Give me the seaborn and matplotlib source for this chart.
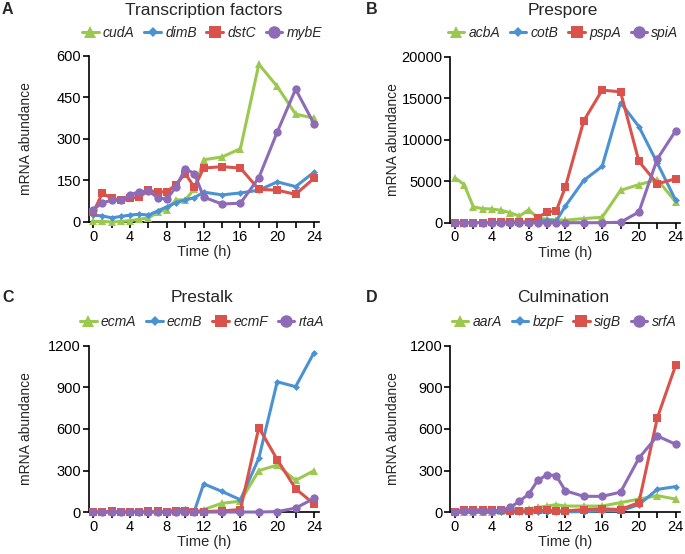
import numpy as np
import pandas as pd
import matplotlib
matplotlib.use("Agg")
import matplotlib.pyplot as plt
import seaborn as sns
from matplotlib.ticker import MultipleLocator

sns.set_theme(style="ticks")
plt.rcParams['font.family'] = ['Liberation Sans', 'DejaVu Sans']

time_h = [0, 1, 2, 3, 4, 5, 6, 7, 8, 9, 10, 11, 12, 14, 16, 18, 20, 22, 24]

# Panel A: Transcription factors
genes_a = ["cudA", "dimB", "dstC", "mybE"]
cudA = [2, 2, 0, 2, 5, 10, 15, 35, 45, 80, 80, 120, 225, 235, 265, 570, 490, 390, 375]
dimB = [25, 22, 15, 20, 25, 28, 25, 40, 55, 70, 80, 88, 108, 98, 105, 115, 145, 128, 180]
dstC = [35, 105, 85, 80, 85, 90, 115, 108, 110, 135, 175, 125, 195, 200, 195, 118, 115, 100, 158]
mybE = [45, 70, 78, 78, 98, 110, 112, 88, 82, 128, 192, 175, 90, 65, 68, 160, 325, 480, 355]

# Panel B: Prespore
genes_b = ["acbA", "cotB", "pspA", "spiA"]
acbA = [5400, 4600, 1900, 1700, 1650, 1500, 1200, 800, 1550, 600, 400, 350, 300, 500, 650, 3900, 4600, 5200, 2500]
cotB = [20, 20, 20, 20, 20, 30, 40, 40, 50, 200, 300, 200, 2000, 5100, 6800, 14500, 11600, 7200, 2700]
pspA = [0, 0, 20, 20, 40, 80, 100, 100, 100, 600, 1300, 1400, 4300, 12300, 16000, 15800, 7400, 4700, 5300]
spiA = [0, 0, 0, 0, 0, 0, 0, 0, 0, 0, 0, 0, 0, 0, 0, 50, 1300, 7700, 11100]

# Panel C: Prestalk
genes_c = ["ecmA", "ecmB", "ecmF", "rtaA"]
ecmA = [2, 2, 3, 3, 3, 3, 4, 4, 4, 5, 5, 5, 20, 65, 80, 300, 340, 230, 300]
ecmB = [2, 2, 2, 2, 2, 3, 3, 3, 3, 20, 25, 10, 205, 150, 90, 390, 940, 905, 1150]
ecmF = [5, 3, 6, 4, 5, 5, 6, 6, 5, 6, 6, 5, 5, 10, 20, 610, 380, 170, 60]
rtaA = [2, 2, 2, 2, 2, 2, 3, 2, 2, 2, 2, 2, 2, 2, 2, 2, 5, 30, 100]

# Panel D: Culmination
genes_d = ["aarA", "bzpF", "sigB", "srfA"]
aarA = [0, 2, 5, 5, 5, 10, 15, 20, 25, 35, 45, 55, 45, 45, 45, 70, 95, 120, 95]
bzpF = [0, 0, 0, 0, 0, 0, 0, 0, 2, 2, 2, 3, 3, 5, 10, 10, 55, 165, 185]
sigB = [5, 20, 15, 20, 15, 15, 10, 10, 10, 15, 15, 10, 10, 20, 25, 20, 70, 680, 1060]
srfA = [5, 10, 10, 10, 10, 15, 35, 80, 130, 230, 270, 265, 155, 115, 115, 145, 390, 550, 490]

titles = ["Transcription factors", "Prespore", "Prestalk", "Culmination"]
letters = ["A", "B", "C", "D"]
ymax = [600, 20000, 1200, 1200]
ystep = [150, 5000, 300, 300]

colors = ["#9bc94f", "#4a92d3", "#d9534c", "#8e6bb6"]
markers = ["^", "D", "s", "o"]
msizes = [5.5, 3.5, 5.5, 6]

panels = [
    (genes_a, [cudA, dimB, dstC, mybE]),
    (genes_b, [acbA, cotB, pspA, spiA]),
    (genes_c, [ecmA, ecmB, ecmF, rtaA]),
    (genes_d, [aarA, bzpF, sigB, srfA]),
]

W, H = 685, 554
fig = plt.figure(figsize=(W / 100, H / 100), dpi=100)

# axes rects in pixels: left, right, top(ymax), bottom(0)
rects = [(88.7, 318.6, 56, 222), (450.4, 680.3, 57, 222.7),
         (88.7, 318.6, 345.7, 512.3), (450.4, 680.3, 345.7, 512.3)]
title_pos = [(204, 10), (563, 10), (202, 297), (563, 297)]
letter_pos = [(2, 10), (366, 10), (2, 297), (366, 297)]
legend_pos = [(202, 33), (563, 33), (202, 322), (564, 322)]
ylabel_x = [33, 400, 33, 400]

for i, (genes, series) in enumerate(panels):
    l, r, t, b = rects[i]
    ax = fig.add_axes([l / W, 1 - b / H, (r - l) / W, (b - t) / H])
    df = pd.DataFrame({"time": np.tile(time_h, 4),
                       "value": np.concatenate(series),
                       "gene": np.repeat(genes, len(time_h))})
    handles = []
    for j, g in enumerate(genes):
        sns.lineplot(data=df[df.gene == g], x="time", y="value", ax=ax,
                     color=colors[j], marker=markers[j], markersize=msizes[j],
                     markeredgewidth=0, linewidth=2.2, legend=False,
                     clip_on=False, zorder=3 + j)
        handles.append(ax.get_lines()[-1])
    ax.set_xlim(-0.5, 24.5)
    ax.set_ylim(0, ymax[i])
    ax.xaxis.set_major_locator(MultipleLocator(4))
    ax.xaxis.set_minor_locator(MultipleLocator(2))
    ax.yaxis.set_major_locator(MultipleLocator(ystep[i]))
    ax.tick_params(axis="both", which="both", direction="out", labelsize=10.5,
                   colors="black", width=1.2, pad=1.5)
    ax.tick_params(axis="both", which="major", length=4)
    ax.tick_params(axis="x", which="minor", length=4)
    for s in ["top", "right"]:
        ax.spines[s].set_visible(False)
    for s in ["left", "bottom"]:
        ax.spines[s].set_linewidth(1.2)
        ax.spines[s].set_color("black")
    ax.set_xlabel("Time (h)", fontsize=10.5, labelpad=1)
    ax.set_ylabel("mRNA abundance", fontsize=10)
    ax.yaxis.set_label_coords((ylabel_x[i] - l) / (r - l), 0.5)

    fig.text(title_pos[i][0] / W, 1 - title_pos[i][1] / H, titles[i],
             ha="center", va="center", fontsize=12.5)
    fig.text(letter_pos[i][0] / W, 1 - letter_pos[i][1] / H, letters[i],
             ha="left", va="center", fontsize=11.5, fontweight="bold")
    fig.legend(handles, genes, loc="center",
               bbox_to_anchor=(legend_pos[i][0] / W, 1 - legend_pos[i][1] / H),
               ncol=4, frameon=False, handlelength=1.2, handletextpad=0.3,
               columnspacing=0.7, markerscale=1.5, borderpad=0.1,
               prop={"style": "italic", "size": 10})

fig.savefig("out.png", dpi=100)
